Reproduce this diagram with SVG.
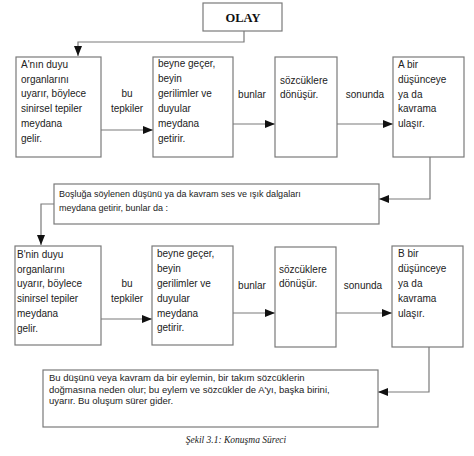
<svg xmlns="http://www.w3.org/2000/svg" width="474" height="456" viewBox="0 0 474 456">
<style>
.box{fill:#fff;stroke:#7a7a7a;stroke-width:1.2}
.ln{fill:none;stroke:#7a7a7a;stroke-width:1.2}
.t{font-family:"Liberation Sans",Arial,sans-serif;font-size:10px;fill:#222}
.ts{font-family:"Liberation Sans",Arial,sans-serif;font-size:9px;fill:#222}
.tm{font-family:"Liberation Sans",Arial,sans-serif;font-size:9.5px;fill:#222}
.lb{font-family:"Liberation Sans",Arial,sans-serif;font-size:10px;fill:#222;text-anchor:middle}
.olay{font-family:"Liberation Serif","Times New Roman",serif;font-size:12.5px;font-weight:bold;fill:#111;text-anchor:middle}
.cap{font-family:"Liberation Serif","Times New Roman",serif;font-size:9.5px;font-style:italic;fill:#222;text-anchor:middle}
</style>
<defs>
<marker id="ah" markerWidth="10" markerHeight="8" refX="10" refY="4" orient="auto" markerUnits="userSpaceOnUse">
<path d="M0,0 L10,4 L0,8 Z" fill="#111"/>
</marker>
</defs>
<rect width="474" height="456" fill="#fff"/>
<g id="connectors">
<path class="ln" d="M244,31 V42 H78 V56" marker-end="url(#ah)"/>
<path class="ln" d="M101,130 H153" marker-end="url(#ah)"/>
<path class="ln" d="M233,124 H275" marker-end="url(#ah)"/>
<path class="ln" d="M337,124 H393" marker-end="url(#ah)"/>
<path class="ln" d="M430,157 V199 H379" marker-end="url(#ah)"/>
<path class="ln" d="M54,204 H41 V245" marker-end="url(#ah)"/>
<path class="ln" d="M101,319 H152" marker-end="url(#ah)"/>
<path class="ln" d="M233,313 H275" marker-end="url(#ah)"/>
<path class="ln" d="M336,313 H392" marker-end="url(#ah)"/>
<path class="ln" d="M429,347 V392 H378" marker-end="url(#ah)"/>
<text class="lb" x="127" y="97">bu</text>
<text class="lb" x="127" y="112">tepkiler</text>
<text class="lb" x="252" y="98">bunlar</text>
<text class="lb" x="365" y="98">sonunda</text>
<text class="lb" x="127" y="287">bu</text>
<text class="lb" x="127" y="302">tepkiler</text>
<text class="lb" x="252" y="289">bunlar</text>
<text class="lb" x="363" y="289">sonunda</text>
</g>
<g id="olay">
<rect class="box" x="203" y="3" width="79" height="28"/>
<text class="olay" x="243" y="21.5">OLAY</text>
</g>
<g id="a-duyu">
<rect class="box" x="16" y="57" width="85" height="100"/>
<text class="t" x="21" y="67.5">A'nın duyu</text>
<text class="t" x="21" y="82.5">organlarını</text>
<text class="t" x="21" y="97">uyarır, böylece</text>
<text class="t" x="21" y="111.5">sinirsel tepiler</text>
<text class="t" x="21" y="126.5">meydana</text>
<text class="t" x="21" y="141.5">gelir.</text>
</g>
<g id="beyin1">
<rect class="box" x="153" y="57" width="80" height="100"/>
<text class="t" x="158" y="66.5">beyne geçer,</text>
<text class="t" x="158" y="81.5">beyin</text>
<text class="t" x="158" y="96.5">gerilimler ve</text>
<text class="t" x="158" y="111.5">duyular</text>
<text class="t" x="158" y="126.5">meydana</text>
<text class="t" x="158" y="141.5">getirir.</text>
</g>
<g id="sozcuk1">
<rect class="box" x="275" y="57" width="62" height="100"/>
<text class="t" x="280" y="83.5">sözcüklere</text>
<text class="t" x="280" y="97.5">dönüşür.</text>
</g>
<g id="a-dusunce">
<rect class="box" x="393" y="57" width="71" height="100"/>
<text class="t" x="398" y="67.5">A bir</text>
<text class="t" x="398" y="82.5">düşünceye</text>
<text class="t" x="398" y="97.5">ya da</text>
<text class="t" x="398" y="111.5">kavrama</text>
<text class="t" x="398" y="126.5">ulaşır.</text>
</g>
<g id="bosluk">
<rect class="box" x="54" y="184" width="325" height="40"/>
<text class="ts" x="59" y="196.5">Boşluğa söylenen düşünü ya da kavram ses ve ışık dalgaları</text>
<text class="ts" x="59" y="210.5">meydana getirir, bunlar da :</text>
</g>
<g id="b-duyu">
<rect class="box" x="15" y="246" width="86" height="99"/>
<text class="t" x="17" y="257.5">B'nin duyu</text>
<text class="t" x="17" y="272.5">organlarını</text>
<text class="t" x="17" y="286.5">uyarır, böylece</text>
<text class="t" x="17" y="301.5">sinirsel tepiler</text>
<text class="t" x="17" y="316.5">meydana</text>
<text class="t" x="17" y="331.5">gelir.</text>
</g>
<g id="beyin2">
<rect class="box" x="152" y="246" width="81" height="99"/>
<text class="t" x="157" y="256.5">beyne geçer,</text>
<text class="t" x="157" y="271.5">beyin</text>
<text class="t" x="157" y="286.5">gerilimler ve</text>
<text class="t" x="157" y="301.5">duyular</text>
<text class="t" x="157" y="316.5">meydana</text>
<text class="t" x="157" y="330.5">getirir.</text>
</g>
<g id="sozcuk2">
<rect class="box" x="275" y="247" width="61" height="100"/>
<text class="t" x="279" y="272.5">sözcüklere</text>
<text class="t" x="279" y="286.5">dönüşür.</text>
</g>
<g id="b-dusunce">
<rect class="box" x="392" y="246" width="71" height="101"/>
<text class="t" x="398" y="256.5">B bir</text>
<text class="t" x="398" y="271.5">düşünceye</text>
<text class="t" x="398" y="286.5">ya da</text>
<text class="t" x="398" y="301.5">kavrama</text>
<text class="t" x="398" y="316.5">ulaşır.</text>
</g>
<g id="eylem">
<rect class="box" x="43" y="370" width="335" height="57"/>
<text class="tm" x="49" y="380.5">Bu düşünü veya kavram da bir eylemin, bir takım sözcüklerin</text>
<text class="tm" x="49" y="392.5">doğmasına neden olur; bu eylem ve sözcükler de A'yı, başka birini,</text>
<text class="tm" x="49" y="403.5">uyarır. Bu oluşum sürer gider.</text>
</g>
<text class="cap" x="236" y="443">Şekil 3.1: Konuşma Süreci</text>
</svg>
